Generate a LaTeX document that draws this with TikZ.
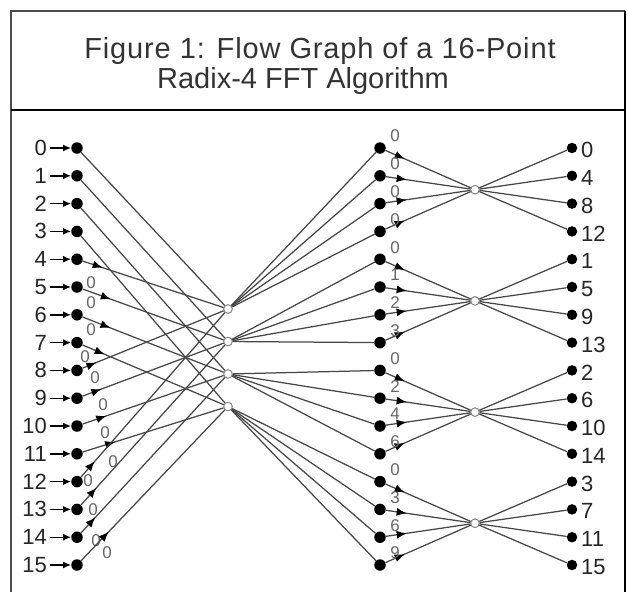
\documentclass[tikz,border=0pt]{standalone}
\usepackage{fontspec}
\setmainfont{Liberation Sans}
\newfontfamily\titlefont[LetterSpace=3]{Liberation Sans}
\usetikzlibrary{arrows.meta, calc, decorations.markings}

\begin{document}
\begin{tikzpicture}[x=1pt, y=-1pt,
    sample/.style={circle, fill=black, inner sep=0pt, minimum size=11.5pt},
    bfly/.style={circle, draw=black!50, fill=white, inner sep=0pt, minimum size=8.5pt, line width=0.8pt},
    wire/.style={black!72, line width=1.25pt},
    feed/.style={black, line width=1.4pt, shorten <=2pt, -{Latex[length=8pt, width=7pt]}},
    tw/.style={wire, postaction={decorate}, decoration={markings,
        mark=at position #1 with {\arrow[black]{Latex[length=10pt, width=8pt]}}}},
    lab/.style={font=\fontsize{22}{22}\selectfont, inner sep=1pt, text=black!85},
    wlab/.style={font=\fontsize{17}{17}\selectfont, text=black!60, inner sep=0pt},
    title/.style={font=\fontsize{29}{30}\selectfont, text=black!80, anchor=base, inner sep=0pt},
]
\useasboundingbox (0,0) rectangle (627,592);

% Frame and title
\draw[black!70, line width=2pt] (11,592) -- (11,11) -- (625,11);
\draw[black, line width=2pt] (625,11) -- (625,592);
\draw[black, line width=2.5pt] (11,110) -- (625,110);
\node[title, font=\titlefont\fontsize{29}{30}\selectfont] (title-a) at (320,58) {Figure 1: Flow Graph of a 16-Point};
\node[title] (title-b) at (303,88) {Radix-4 FFT Algorithm};

% Sample columns
\foreach \i in {0,...,15} {
    \node[sample] (in-\i) at (77, {148+27.8*\i}) {};
    \node[lab, anchor=east] (il-\i) at (48, {148+27.8*\i}) {\i};
    \node[sample] (md-\i) at (380, {148+27.8*\i}) {};
    \node[sample, minimum size=10.5pt] (out-\i) at (572, {148+27.8*\i}) {};
    \pgfmathtruncatemacro\o{4*mod(\i,4)+int(\i/4)}
    \node[lab, anchor=west] (ol-\i) at (580, {150+27.8*\i}) {\o};
    \draw[feed] (il-\i) -- (in-\i);
}

% Butterfly nodes
\foreach \k in {0,...,3} {
    \node[bfly] (bf-\k) at (228, {309+32.5*\k}) {};
    \node[bfly] (rb-\k) at (475, {148+27.8*(4*\k+1.5)}) {};
}

% First stage: inputs 0-3 without twiddle
\foreach \n in {0,...,3}
    \draw[wire] (in-\n) -- (bf-\n);

% First stage: inputs 4-15 with twiddle (arrow distance / label offset)
\foreach \n/\d/\lx/\ly in {4/21/14/23, 5/30/14/16, 6/30/14/15, 7/24/8/14,
        8/15/18/7, 9/20/26/6, 10/25/28/7, 11/34/36/8,
        12/21/11/-1, 13/23/16/0, 14/21/19/3, 15/40/30/-12} {
    \pgfmathtruncatemacro\k{mod(\n,4)}
    \draw[tw=\d pt] (in-\n) -- (bf-\k);
    \node[wlab] (wl-\n) at ($(in-\n)+(\lx,\ly)$) {0};
}

% Butterfly outputs to middle column
\foreach \k in {0,...,3}
    \foreach \j in {0,...,3} {
        \pgfmathtruncatemacro\m{4*\k+\j}
        \draw[wire] (bf-\k) -- (md-\m);
    }

% Second stage with twiddles g*j
\foreach \m in {0,...,15} {
    \pgfmathtruncatemacro\g{int(\m/4)}
    \pgfmathtruncatemacro\w{\g*mod(\m,4)}
    \draw[tw=21pt] (md-\m) -- (rb-\g);
    \node[wlab] (wm-\m) at ($(md-\m)+(15,-12)$) {\w};
}

% Outputs
\foreach \g in {0,...,3}
    \foreach \j in {0,...,3} {
        \pgfmathtruncatemacro\r{4*\g+\j}
        \draw[wire] (rb-\g) -- (out-\r);
    }

% redraw butterfly nodes on top
\foreach \k in {0,...,3} {
    \node[bfly] at (bf-\k) {};
    \node[bfly] at (rb-\k) {};
}
\end{tikzpicture}
\end{document}
